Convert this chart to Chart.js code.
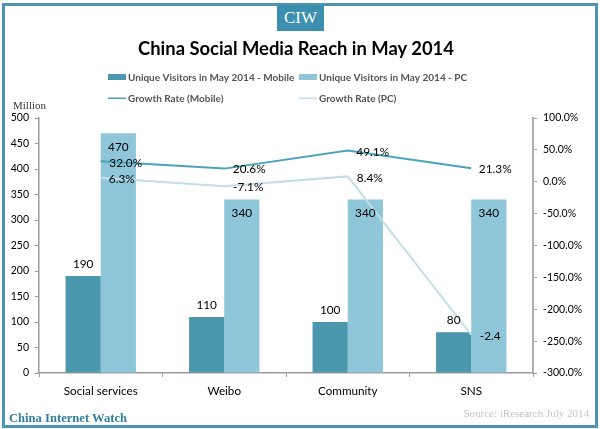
<!DOCTYPE html>
<html>
<head>
<meta charset="utf-8">
<script src="https://cdn.jsdelivr.net/npm/chart.js@4"></script>
<style>
  html, body { margin: 0; padding: 0; background: #fff; }
  #wrap { position: relative; width: 600px; height: 429px; overflow: hidden; }
  canvas { position: absolute; left: 0; top: 0; }
  #frame { position: absolute; left: 2px; top: 3px; width: 590px; height: 419px; border: 3px solid #4b94b2; }
  #logo { position: absolute; left: 277px; top: 5px; width: 47px; height: 26px; background: #3d8fb0; color: #fff;
    font: 17px/26px "Liberation Serif", serif; text-align: center; }
  #title { position: absolute; left: 0; top: 33px; width: 592px; text-align: center; color: #000;
    font: bold 18.4px/30px Lato, sans-serif; }
  #million { position: absolute; left: 13px; top: 98px; color: #333; font: 11px/14px "Liberation Serif", serif; }
  #brand { position: absolute; left: 9px; top: 410px; color: #2f7f9c; font: bold 12.6px/16px "Liberation Serif", serif; }
  #source { position: absolute; right: 11px; top: 406px; color: #c4c4c4; font: 11px/14px "Liberation Serif", serif; }
</style>
</head>
<body>
<div id="wrap">
  <canvas id="reachChart" width="600" height="429"></canvas>
  <div id="frame"></div>
  <div id="logo">CIW</div>
  <div id="title">China Social Media Reach in May 2014</div>
  <div id="million">Million</div>
  <div id="brand">China Internet Watch</div>
  <div id="source">Source: iResearch July 2014</div>
</div>
<script>
const categories = ['Social services', 'Weibo', 'Community', 'SNS'];
const mobileVisitors = [190, 110, 100, 80];
const pcVisitors = [470, 340, 340, 340];
const mobileGrowth = [32.0, 20.6, 49.1, 21.3];
const pcGrowth = [6.3, -7.1, 8.4, -240];
const mobileGrowthLabels = ['32.0%', '20.6%', '49.1%', '21.3%'];
const pcGrowthLabels = ['6.3%', '-7.1%', '8.4%', '-2.4'];

const DARK = '#4a97ae';
const LIGHT = '#8fc6d9';
const LINE_MOBILE = '#4ba3bc';
const LINE_PC = '#c2dee7';
const AXIS = '#9a9a9a';
const FONT = 'Lato, sans-serif';

// offsets of the value labels from their points, in px
const mobileGrowthOffset = [[25, 2], [25, 1], [25, 1.5], [24, 1]];
const pcGrowthOffset = [[21, 1], [24, 1], [22, 1.6], [19, 1]];

const valueLabels = {
    id: 'valueLabels',
    afterDatasetsDraw(chart) {
        const ctx = chart.ctx;
        ctx.save();
        ctx.font = '11.8px ' + FONT;
        ctx.fillStyle = '#000';
        ctx.textAlign = 'center';
        ctx.textBaseline = 'middle';

        chart.getDatasetMeta(0).data.forEach((el, i) => {
            ctx.fillText(String(mobileVisitors[i]), el.x, el.y - 12);
        });
        chart.getDatasetMeta(1).data.forEach((el, i) => {
            ctx.fillText(String(pcVisitors[i]), el.x, el.y + 14);
        });
        chart.getDatasetMeta(2).data.forEach((el, i) => {
            ctx.fillText(mobileGrowthLabels[i], el.x + mobileGrowthOffset[i][0], el.y + mobileGrowthOffset[i][1]);
        });
        chart.getDatasetMeta(3).data.forEach((el, i) => {
            ctx.fillText(pcGrowthLabels[i], el.x + pcGrowthOffset[i][0], el.y + pcGrowthOffset[i][1]);
        });
        ctx.restore();
    }
};

// 2x2 legend, the built-in one centres each row so the columns do not line up
const gridLegend = {
    id: 'gridLegend',
    afterDraw(chart) {
        const ctx = chart.ctx;
        const slots = [[108, 78], [299, 78], [108, 99], [299, 99]];
        ctx.save();
        ctx.font = 'bold 10px ' + FONT;
        ctx.textBaseline = 'middle';
        chart.data.datasets.forEach((ds, i) => {
            const [x, y] = slots[i];
            if (ds.type === 'line') {
                ctx.fillStyle = ds.borderColor;
                ctx.fillRect(x, y - 1.5, 18, 1.5);
            } else {
                ctx.fillStyle = ds.backgroundColor;
                ctx.fillRect(x, y - 4, 18, 6);
            }
            ctx.fillStyle = '#555';
            ctx.textAlign = 'left';
            ctx.fillText(ds.label, x + 20, y);
        });
        ctx.restore();
    }
};

new Chart(document.getElementById('reachChart').getContext('2d'), {
    data: {
        labels: categories,
        datasets: [
            { type: 'bar', label: 'Unique Visitors in May 2014 - Mobile', data: mobileVisitors, backgroundColor: DARK, yAxisID: 'y', order: 2 },
            { type: 'bar', label: 'Unique Visitors in May 2014 - PC', data: pcVisitors, backgroundColor: LIGHT, yAxisID: 'y', order: 2 },
            { type: 'line', label: 'Growth Rate (Mobile)', data: mobileGrowth, borderColor: LINE_MOBILE, borderWidth: 2, pointRadius: 0, tension: 0, yAxisID: 'y1', order: 1 },
            { type: 'line', label: 'Growth Rate (PC)', data: pcGrowth, borderColor: LINE_PC, borderWidth: 2, pointRadius: 0, tension: 0, yAxisID: 'y1', order: 1 }
        ]
    },
    options: {
        responsive: false,
        animation: false,
        devicePixelRatio: 1,
        layout: { padding: { top: 118, left: 0, right: 0, bottom: 0 } },
        datasets: { bar: { categoryPercentage: 0.57, barPercentage: 1 } },
        plugins: { legend: { display: false }, title: { display: false }, tooltip: { enabled: false } },
        scales: {
            x: {
                grid: { drawOnChartArea: false, color: AXIS, tickLength: 4, offset: true },
                border: { color: AXIS, width: 1.5 },
                ticks: { color: '#000', font: { family: FONT, size: 11.7 }, padding: 7, maxRotation: 0 },
                afterFit: (scale) => { scale.height = 56; }
            },
            y: {
                position: 'left',
                min: 0,
                max: 500,
                grid: { drawOnChartArea: false, color: AXIS, tickLength: 4 },
                border: { color: AXIS, width: 1.5 },
                ticks: { stepSize: 50, color: '#000', font: { family: FONT, size: 10.5 }, padding: 6 },
                afterFit: (scale) => { scale.width = 39; }
            },
            y1: {
                position: 'right',
                min: -300,
                max: 100,
                grid: { drawOnChartArea: false, color: AXIS, tickLength: 4 },
                border: { color: '#b0b0b0', width: 2 },
                ticks: {
                    stepSize: 50,
                    color: '#000',
                    font: { family: FONT, size: 10.5 },
                    padding: 6,
                    callback: (value) => value.toFixed(1) + '%'
                },
                afterFit: (scale) => { scale.width = 67; }
            }
        }
    },
    plugins: [valueLabels, gridLegend]
});
</script>
</body>
</html>
